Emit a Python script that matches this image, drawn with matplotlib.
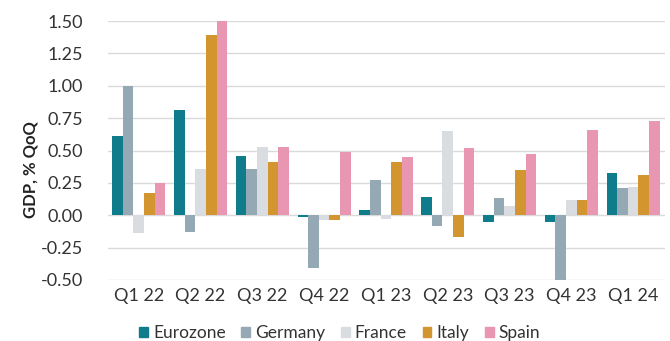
import matplotlib
matplotlib.use("Agg")
import matplotlib.pyplot as plt
import numpy as np
from matplotlib.patches import Patch

plt.rcParams['font.family'] = ['Lato', 'DejaVu Sans']

quarters = ["Q1 22", "Q2 22", "Q3 22", "Q4 22", "Q1 23", "Q2 23", "Q3 23", "Q4 23", "Q1 24"]
eurozone = [0.61, 0.81, 0.46, -0.01, 0.04, 0.14, -0.05, -0.05, 0.33]
germany = [1.00, -0.13, 0.36, -0.41, 0.27, -0.08, 0.13, -0.51, 0.21]
france = [-0.14, 0.36, 0.53, -0.04, -0.03, 0.65, 0.07, 0.12, 0.22]
italy = [0.17, 1.39, 0.41, -0.04, 0.41, -0.17, 0.35, 0.12, 0.31]
spain = [0.25, 1.50, 0.53, 0.49, 0.45, 0.52, 0.47, 0.66, 0.73]
series_names = ["Eurozone", "Germany", "France", "Italy", "Spain"]
colors = ["#0E7C8B", "#95A9B5", "#D9DDE2", "#D39530", "#E996B3"]
yticks = [-0.5, -0.25, 0.0, 0.25, 0.5, 0.75, 1.0, 1.25, 1.5]

fig = plt.figure(figsize=(6.7, 3.41), dpi=100)
ax = fig.add_axes([0.161, 0.179, 0.832, 0.759])

data = [eurozone, germany, france, italy, spain]
x = np.arange(len(quarters))
w = 0.172
for i, (vals, c, n) in enumerate(zip(data, colors, series_names)):
    ax.bar(x + (i - 2) * w, vals, width=w, color=c, label=n, zorder=3)

ax.set_ylim(-0.5, 1.5)
ax.set_xlim(-0.5, 8.52)
ax.set_yticks(yticks)
ax.set_yticklabels([f"{v:.2f}" for v in yticks])
ax.set_xticks(x)
ax.set_xticklabels(quarters)
ax.grid(axis='y', color='#DADADA', linewidth=1, zorder=0)
for s in ax.spines.values():
    s.set_visible(False)
ax.tick_params(axis='both', length=0, labelsize=13, colors='#333333')
ax.tick_params(axis='y', pad=18)
ax.tick_params(axis='x', pad=6)
ax.set_ylabel("GDP, % QoQ", fontsize=12, fontweight='bold', color='#222222')
ax.yaxis.set_label_coords(-0.125, 0.425)

handles = [Patch(color=c, label=n) for c, n in zip(colors, series_names)]
fig.legend(handles=handles, loc='lower center', bbox_to_anchor=(0.507, -0.045), ncol=5,
           frameon=False, fontsize=12.5, handlelength=0.5, handleheight=0.5,
           handletextpad=0.3, columnspacing=0.9, labelcolor='#333333')

fig.savefig("out.png", dpi=100)
